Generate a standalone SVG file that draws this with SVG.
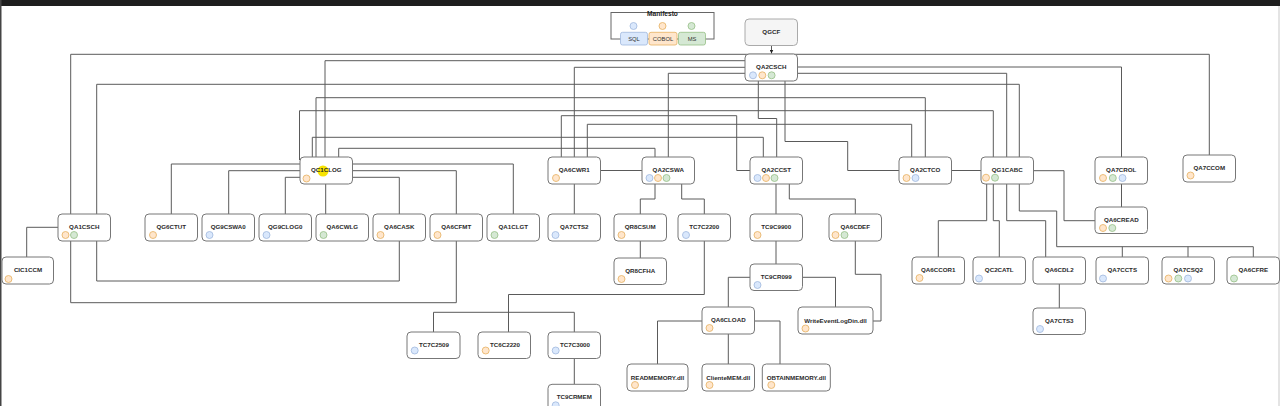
<svg xmlns="http://www.w3.org/2000/svg" width="1280" height="406" viewBox="0 0 1280 406">
<style>
.n rect{fill:#fff;stroke:#777;stroke-width:1}
.n text{font-family:"Liberation Sans",Arial,sans-serif;font-weight:bold;font-size:6.2px;fill:#2a2a2a;text-anchor:middle}
.b{fill:#dae8fc;stroke:#9fb8dd;stroke-width:0.8}
.o{fill:#ffe6cc;stroke:#e6b060;stroke-width:0.8}
.g{fill:#d5e8d4;stroke:#95bf85;stroke-width:0.8}
#edges path{fill:none;stroke:#5a5a5a;stroke-width:1}
.m text{font-family:"Liberation Sans",Arial,sans-serif;font-size:5.8px;fill:#333;text-anchor:middle}
.m text.t{font-size:6.6px;font-weight:bold;fill:#222}
</style>
<defs>
<marker id="arr" viewBox="0 0 6 6" refX="6" refY="3" markerWidth="4" markerHeight="4" orient="auto"><path d="M0,0 L6,3 L0,6 Z" fill="#222"/></marker>
</defs>
<rect x="0" y="0" width="1280" height="406" fill="#fff"/>
<rect x="0" y="0" width="1280" height="6" fill="#1e1e1e"/>
<rect x="0" y="0" width="1.5" height="406" fill="#444"/>
<rect x="1278" y="6" width="2" height="400" fill="#e4e4e4"/>

<g id="edges">
<path d="M771.5,45 V53.5" marker-end="url(#arr)"/>
<path d="M70.7,214 V54.3 H1209.3 V155"/>
<path d="M325,157 V60.7 H745"/>
<path d="M574.3,157 V67.3 H745"/>
<path d="M668.3,157 V73.3 H745"/>
<path d="M797.5,67 H1121.5 V157"/>
<path d="M797.5,73.3 H1006.7 V157"/>
<path d="M96.7,214 V84.3 H1019.3 V157"/>
<path d="M316,157 V97.7 H925.3 V157"/>
<path d="M299.5,160 V110.7 H993.3 V157"/>
<path d="M561.3,157 V115.7 H736.7 V170.5 H750"/>
<path d="M758.3,81 V118.5 H776.7 V157"/>
<path d="M587.3,157 V124.3 H911.7 V157"/>
<path d="M312.3,157 V137.3 H763.3 V157"/>
<path d="M785,81 V141.5 H847.7 V170.5 H899"/>
<path d="M338.7,157 V148.3 H655 V157"/>
<path d="M600.5,170.5 H642"/>
<path d="M951.5,170.5 H981"/>
<path d="M1033.5,170.7 H1064 V220.7 H1095"/>
<path d="M1121.5,184 V207"/>
<path d="M300,164 H171.3 V214"/>
<path d="M300,170.7 H228.7 V214"/>
<path d="M300,177.3 H285.3 V214"/>
<path d="M352.5,164 H513.3 V214"/>
<path d="M352.5,170.7 H456.3 V214"/>
<path d="M352.5,177.3 H399.3 V214"/>
<path d="M325.7,184 V214"/>
<path d="M58,227.3 H26.7 V257"/>
<path d="M70.7,241 V302.7 H456.3 V241"/>
<path d="M96.7,241 V281 H399.3 V241"/>
<path d="M574.3,184 V214"/>
<path d="M655,184 V199 H640.3 V214"/>
<path d="M681.7,184 V199 H704.3 V214"/>
<path d="M640.3,241 V258"/>
<path d="M704.3,241 V294.5 H508.5 V332"/>
<path d="M433.5,332 V312.3 H574.3 V332"/>
<path d="M574.3,359 V384"/>
<path d="M776,184 V214"/>
<path d="M789.3,184 V199 H855.3 V214"/>
<path d="M776,241 V264"/>
<path d="M750,277.3 H728.3 V307"/>
<path d="M802.5,277.3 H835.5 V307"/>
<path d="M855.3,241 V274.3 H881 V321 H873"/>
<path d="M702,321 H657.5 V364"/>
<path d="M728.3,334 V364"/>
<path d="M754.5,321 H780 V364"/>
<path d="M986.7,184 V220.7 H938.3 V257"/>
<path d="M993.3,184 V220.7 H999.3 V257"/>
<path d="M1006.7,184 V220.7 H1045.7 V257"/>
<path d="M1019.3,184 V211 H1056.7 V246.7 H1253.3 V257"/>
<path d="M1122.3,246.7 V257"/>
<path d="M1188,246.7 V257"/>
<path d="M1059.3,284 V308"/>
</g>

<g id="Manifesto" class="m">
<rect x="611" y="12.5" width="103" height="26.5" fill="none" stroke="#666" stroke-width="1"/>
<text class="t" x="662.5" y="15.6">Manifesto</text>
<circle class="b" cx="633.5" cy="26" r="3.5"/>
<circle class="o" cx="662.5" cy="26" r="3.5"/>
<circle class="g" cx="691.5" cy="26" r="3.5"/>
<rect x="620.5" y="32.3" width="27" height="12.7" rx="2" fill="#dae8fc" stroke="#9fb8dd" stroke-width="0.8"/>
<rect x="649" y="32.3" width="28" height="12.7" rx="2" fill="#ffe6cc" stroke="#e6b060" stroke-width="0.8"/>
<rect x="678.5" y="32.3" width="27" height="12.7" rx="2" fill="#d5e8d4" stroke="#95bf85" stroke-width="0.8"/>
<text x="634" y="40.8">SQL</text>
<text x="663" y="40.8">COBOL</text>
<text x="692" y="40.8">MS</text>
</g>

<g id="QGCF" class="n" transform="translate(745,19)"><rect width="52.5" height="26.5" rx="4" style="fill:#f5f5f5;stroke:#aaa"/><text x="26.25" y="15">QGCF</text></g>
<g id="QA2CSCH" class="n" transform="translate(745,54)"><rect width="52.5" height="27" rx="4"/><text x="26.25" y="15">QA2CSCH</text><circle class="b" cx="8" cy="21.3" r="3.5"/><circle class="o" cx="17.3" cy="21.3" r="3.5"/><circle class="g" cx="26.6" cy="21.3" r="3.5"/></g>

<g id="QC1CLOG" class="n" transform="translate(300,157)"><rect width="52.5" height="27" rx="4"/><circle cx="23" cy="14" r="5.5" fill="#f7e300"/><text x="26.25" y="15">QC1CLOG</text><circle class="o" cx="6.5" cy="21.5" r="3.5"/></g>
<g id="QA6CWR1" class="n" transform="translate(548,157)"><rect width="52.5" height="27" rx="4"/><text x="26.25" y="15">QA6CWR1</text><circle class="o" cx="8" cy="21" r="3.5"/></g>
<g id="QA2CSWA" class="n" transform="translate(642,157)"><rect width="52.5" height="27" rx="4"/><text x="26.25" y="15">QA2CSWA</text><circle class="b" cx="7.5" cy="21" r="3.5"/><circle class="o" cx="16" cy="21" r="3.5"/><circle class="g" cx="24.5" cy="21" r="3.5"/></g>
<g id="QA2CCST" class="n" transform="translate(750,157)"><rect width="52.5" height="27" rx="4"/><text x="26.25" y="15">QA2CCST</text><circle class="b" cx="7.5" cy="21" r="3.5"/><circle class="o" cx="16" cy="21" r="3.5"/><circle class="g" cx="24.5" cy="21" r="3.5"/></g>
<g id="QA2CTCO" class="n" transform="translate(899,157)"><rect width="52.5" height="27" rx="4"/><text x="26.25" y="15">QA2CTCO</text><circle class="o" cx="7.5" cy="21" r="3.5"/><circle class="b" cx="16.5" cy="21" r="3.5"/></g>
<g id="QG1CABC" class="n" transform="translate(981,157)"><rect width="52.5" height="27" rx="4"/><text x="26.25" y="15">QG1CABC</text><circle class="o" cx="5" cy="20.7" r="3.5"/><circle class="g" cx="14" cy="20.7" r="3.5"/></g>
<g id="QA7CROL" class="n" transform="translate(1095,157)"><rect width="52.5" height="27" rx="4"/><text x="26.25" y="15">QA7CROL</text><circle class="o" cx="8" cy="21" r="3.5"/><circle class="g" cx="17.8" cy="21" r="3.5"/><circle class="b" cx="27.5" cy="21" r="3.5"/></g>
<g id="QA7CCOM" class="n" transform="translate(1183,155)"><rect width="52.5" height="27" rx="4"/><text x="26.25" y="15">QA7CCOM</text><circle class="o" cx="7.5" cy="20.5" r="3.5"/></g>

<g id="QA1CSCH" class="n" transform="translate(58,214)"><rect width="52.5" height="27" rx="4"/><text x="26.25" y="15">QA1CSCH</text><circle class="o" cx="7.5" cy="21" r="3.5"/><circle class="g" cx="16" cy="21" r="3.5"/></g>
<g id="QG6CTUT" class="n" transform="translate(145,214)"><rect width="52.5" height="27" rx="4"/><text x="26.25" y="15">QG6CTUT</text><circle class="o" cx="8" cy="21" r="3.5"/></g>
<g id="QG9CSWA0" class="n" transform="translate(202,214)"><rect width="52.5" height="27" rx="4"/><text x="26.25" y="15">QG9CSWA0</text><circle class="b" cx="7.5" cy="21" r="3.5"/></g>
<g id="QG9CLOG0" class="n" transform="translate(259,214)"><rect width="52.5" height="27" rx="4"/><text x="26.25" y="15">QG9CLOG0</text><circle class="b" cx="7.5" cy="21" r="3.5"/></g>
<g id="QA6CWLG" class="n" transform="translate(316,214)"><rect width="52.5" height="27" rx="4"/><text x="26.25" y="15">QA6CWLG</text><circle class="g" cx="7.5" cy="21" r="3.5"/></g>
<g id="QA6CASK" class="n" transform="translate(373,214)"><rect width="52.5" height="27" rx="4"/><text x="26.25" y="15">QA6CASK</text><circle class="o" cx="7.5" cy="21" r="3.5"/></g>
<g id="QA6CFMT" class="n" transform="translate(430,214)"><rect width="52.5" height="27" rx="4"/><text x="26.25" y="15">QA6CFMT</text><circle class="o" cx="7.5" cy="21" r="3.5"/></g>
<g id="QA1CLGT" class="n" transform="translate(487,214)"><rect width="52.5" height="27" rx="4"/><text x="26.25" y="15">QA1CLGT</text><circle class="g" cx="7.5" cy="21" r="3.5"/></g>
<g id="QA7CTS2" class="n" transform="translate(548,214)"><rect width="52.5" height="27" rx="4"/><text x="26.25" y="15">QA7CTS2</text><circle class="b" cx="7.5" cy="21" r="3.5"/></g>
<g id="QR8CSUM" class="n" transform="translate(614,214)"><rect width="52.5" height="27" rx="4"/><text x="26.25" y="15">QR8CSUM</text><circle class="o" cx="7.5" cy="21" r="3.5"/></g>
<g id="TC7C2200" class="n" transform="translate(678,214)"><rect width="52.5" height="27" rx="4"/><text x="26.25" y="15">TC7C2200</text><circle class="b" cx="8" cy="21" r="3.5"/></g>
<g id="TC9C9900" class="n" transform="translate(750,214)"><rect width="52.5" height="27" rx="4"/><text x="26.25" y="15">TC9C9900</text><circle class="o" cx="7.5" cy="21" r="3.5"/></g>
<g id="QA6CDEF" class="n" transform="translate(829,214)"><rect width="52.5" height="27" rx="4"/><text x="26.25" y="15">QA6CDEF</text><circle class="o" cx="6.5" cy="21" r="3.5"/><circle class="g" cx="15.5" cy="21" r="3.5"/></g>
<g id="QA6CREAD" class="n" transform="translate(1095,207)"><rect width="52.5" height="26.5" rx="4"/><text x="26.25" y="15">QA6CREAD</text><circle class="o" cx="8" cy="21" r="3.5"/><circle class="g" cx="17.3" cy="21" r="3.5"/></g>

<g id="CIC1CCM" class="n" transform="translate(2,257)"><rect width="51.5" height="27" rx="4"/><text x="26" y="15">CIC1CCM</text><circle class="o" cx="6.5" cy="22" r="3.5"/></g>
<g id="QR8CFHA" class="n" transform="translate(614,258)"><rect width="52.5" height="26.5" rx="4"/><text x="26.25" y="15">QR8CFHA</text><circle class="o" cx="7.5" cy="21" r="3.5"/></g>
<g id="TC9CR099" class="n" transform="translate(750,264)"><rect width="52.5" height="26.5" rx="4"/><text x="26.25" y="15">TC9CR099</text><circle class="b" cx="7.5" cy="21" r="3.5"/></g>
<g id="QA6CCOR1" class="n" transform="translate(912,257)"><rect width="52.5" height="27" rx="4"/><text x="26.25" y="14.5">QA6CCOR1</text><circle class="o" cx="7.5" cy="21" r="3.5"/></g>
<g id="QC2CATL" class="n" transform="translate(973,257)"><rect width="52.5" height="27" rx="4"/><text x="26.25" y="14.5">QC2CATL</text><circle class="b" cx="6" cy="21.5" r="3.5"/></g>
<g id="QA6CDL2" class="n" transform="translate(1033,257)"><rect width="52.5" height="27" rx="4"/><text x="26.25" y="14.5">QA6CDL2</text></g>
<g id="QA7CCTS" class="n" transform="translate(1096,257)"><rect width="52.5" height="27" rx="4"/><text x="26.25" y="14.5">QA7CCTS</text><circle class="b" cx="7" cy="21.5" r="3.5"/></g>
<g id="QA7CSQ2" class="n" transform="translate(1162,257)"><rect width="52.5" height="27" rx="4"/><text x="26.25" y="14.5">QA7CSQ2</text><circle class="o" cx="6.5" cy="21.5" r="3.5"/><circle class="g" cx="16.3" cy="21.5" r="3.5"/><circle class="b" cx="26" cy="21.5" r="3.5"/></g>
<g id="QA6CFRE" class="n" transform="translate(1227,257)"><rect width="52.5" height="27" rx="4"/><text x="26.25" y="14.5">QA6CFRE</text><circle class="g" cx="7" cy="21.5" r="3.5"/></g>

<g id="QA6CLOAD" class="n" transform="translate(702,307)"><rect width="52.5" height="27" rx="4"/><text x="26.25" y="15">QA6CLOAD</text><circle class="o" cx="7.5" cy="21" r="3.5"/></g>
<g id="WriteEventLogDin.dll" class="n" transform="translate(798,307)"><rect width="75" height="27" rx="4"/><text x="37.5" y="15.5">WriteEventLogDin.dll</text><circle class="o" cx="7.5" cy="21.5" r="3.5"/></g>
<g id="QA7CTS3" class="n" transform="translate(1033,308)"><rect width="52.5" height="26.5" rx="4"/><text x="26.25" y="14.5">QA7CTS3</text><circle class="b" cx="7" cy="21" r="3.5"/></g>

<g id="TC7C2509" class="n" transform="translate(407,332)"><rect width="53" height="26.5" rx="4"/><text x="27" y="15">TC7C2509</text><circle class="b" cx="7.7" cy="18.5" r="3.5"/></g>
<g id="TC6C2220" class="n" transform="translate(478,332)"><rect width="52.5" height="26.5" rx="4"/><text x="27" y="15">TC6C2220</text><circle class="o" cx="7.7" cy="18.5" r="3.5"/></g>
<g id="TC7C3000" class="n" transform="translate(548,332)"><rect width="52.5" height="26.5" rx="4"/><text x="27" y="15">TC7C3000</text><circle class="b" cx="7.7" cy="18.5" r="3.5"/></g>
<g id="TC9CRMEM" class="n" transform="translate(548,384.3)"><rect width="52.5" height="27" rx="4"/><text x="26.25" y="15">TC9CRMEM</text><circle class="b" cx="7.7" cy="21" r="3.5"/></g>

<g id="READMEMORY.dll" class="n" transform="translate(627,364)"><rect width="61" height="27" rx="4"/><text x="30.5" y="15.5">READMEMORY.dll</text><circle class="o" cx="8" cy="21" r="3.5"/></g>
<g id="ClienteMEM.dll" class="n" transform="translate(702,364)"><rect width="52.5" height="27" rx="4"/><text x="26.25" y="15.5">ClienteMEM.dll</text><circle class="o" cx="7.5" cy="21" r="3.5"/></g>
<g id="OBTAINMEMORY.dll" class="n" transform="translate(762.3,364)"><rect width="68" height="27" rx="4"/><text x="34" y="15.5">OBTAINMEMORY.dll</text><circle class="o" cx="9" cy="21" r="3.5"/></g>
</svg>
